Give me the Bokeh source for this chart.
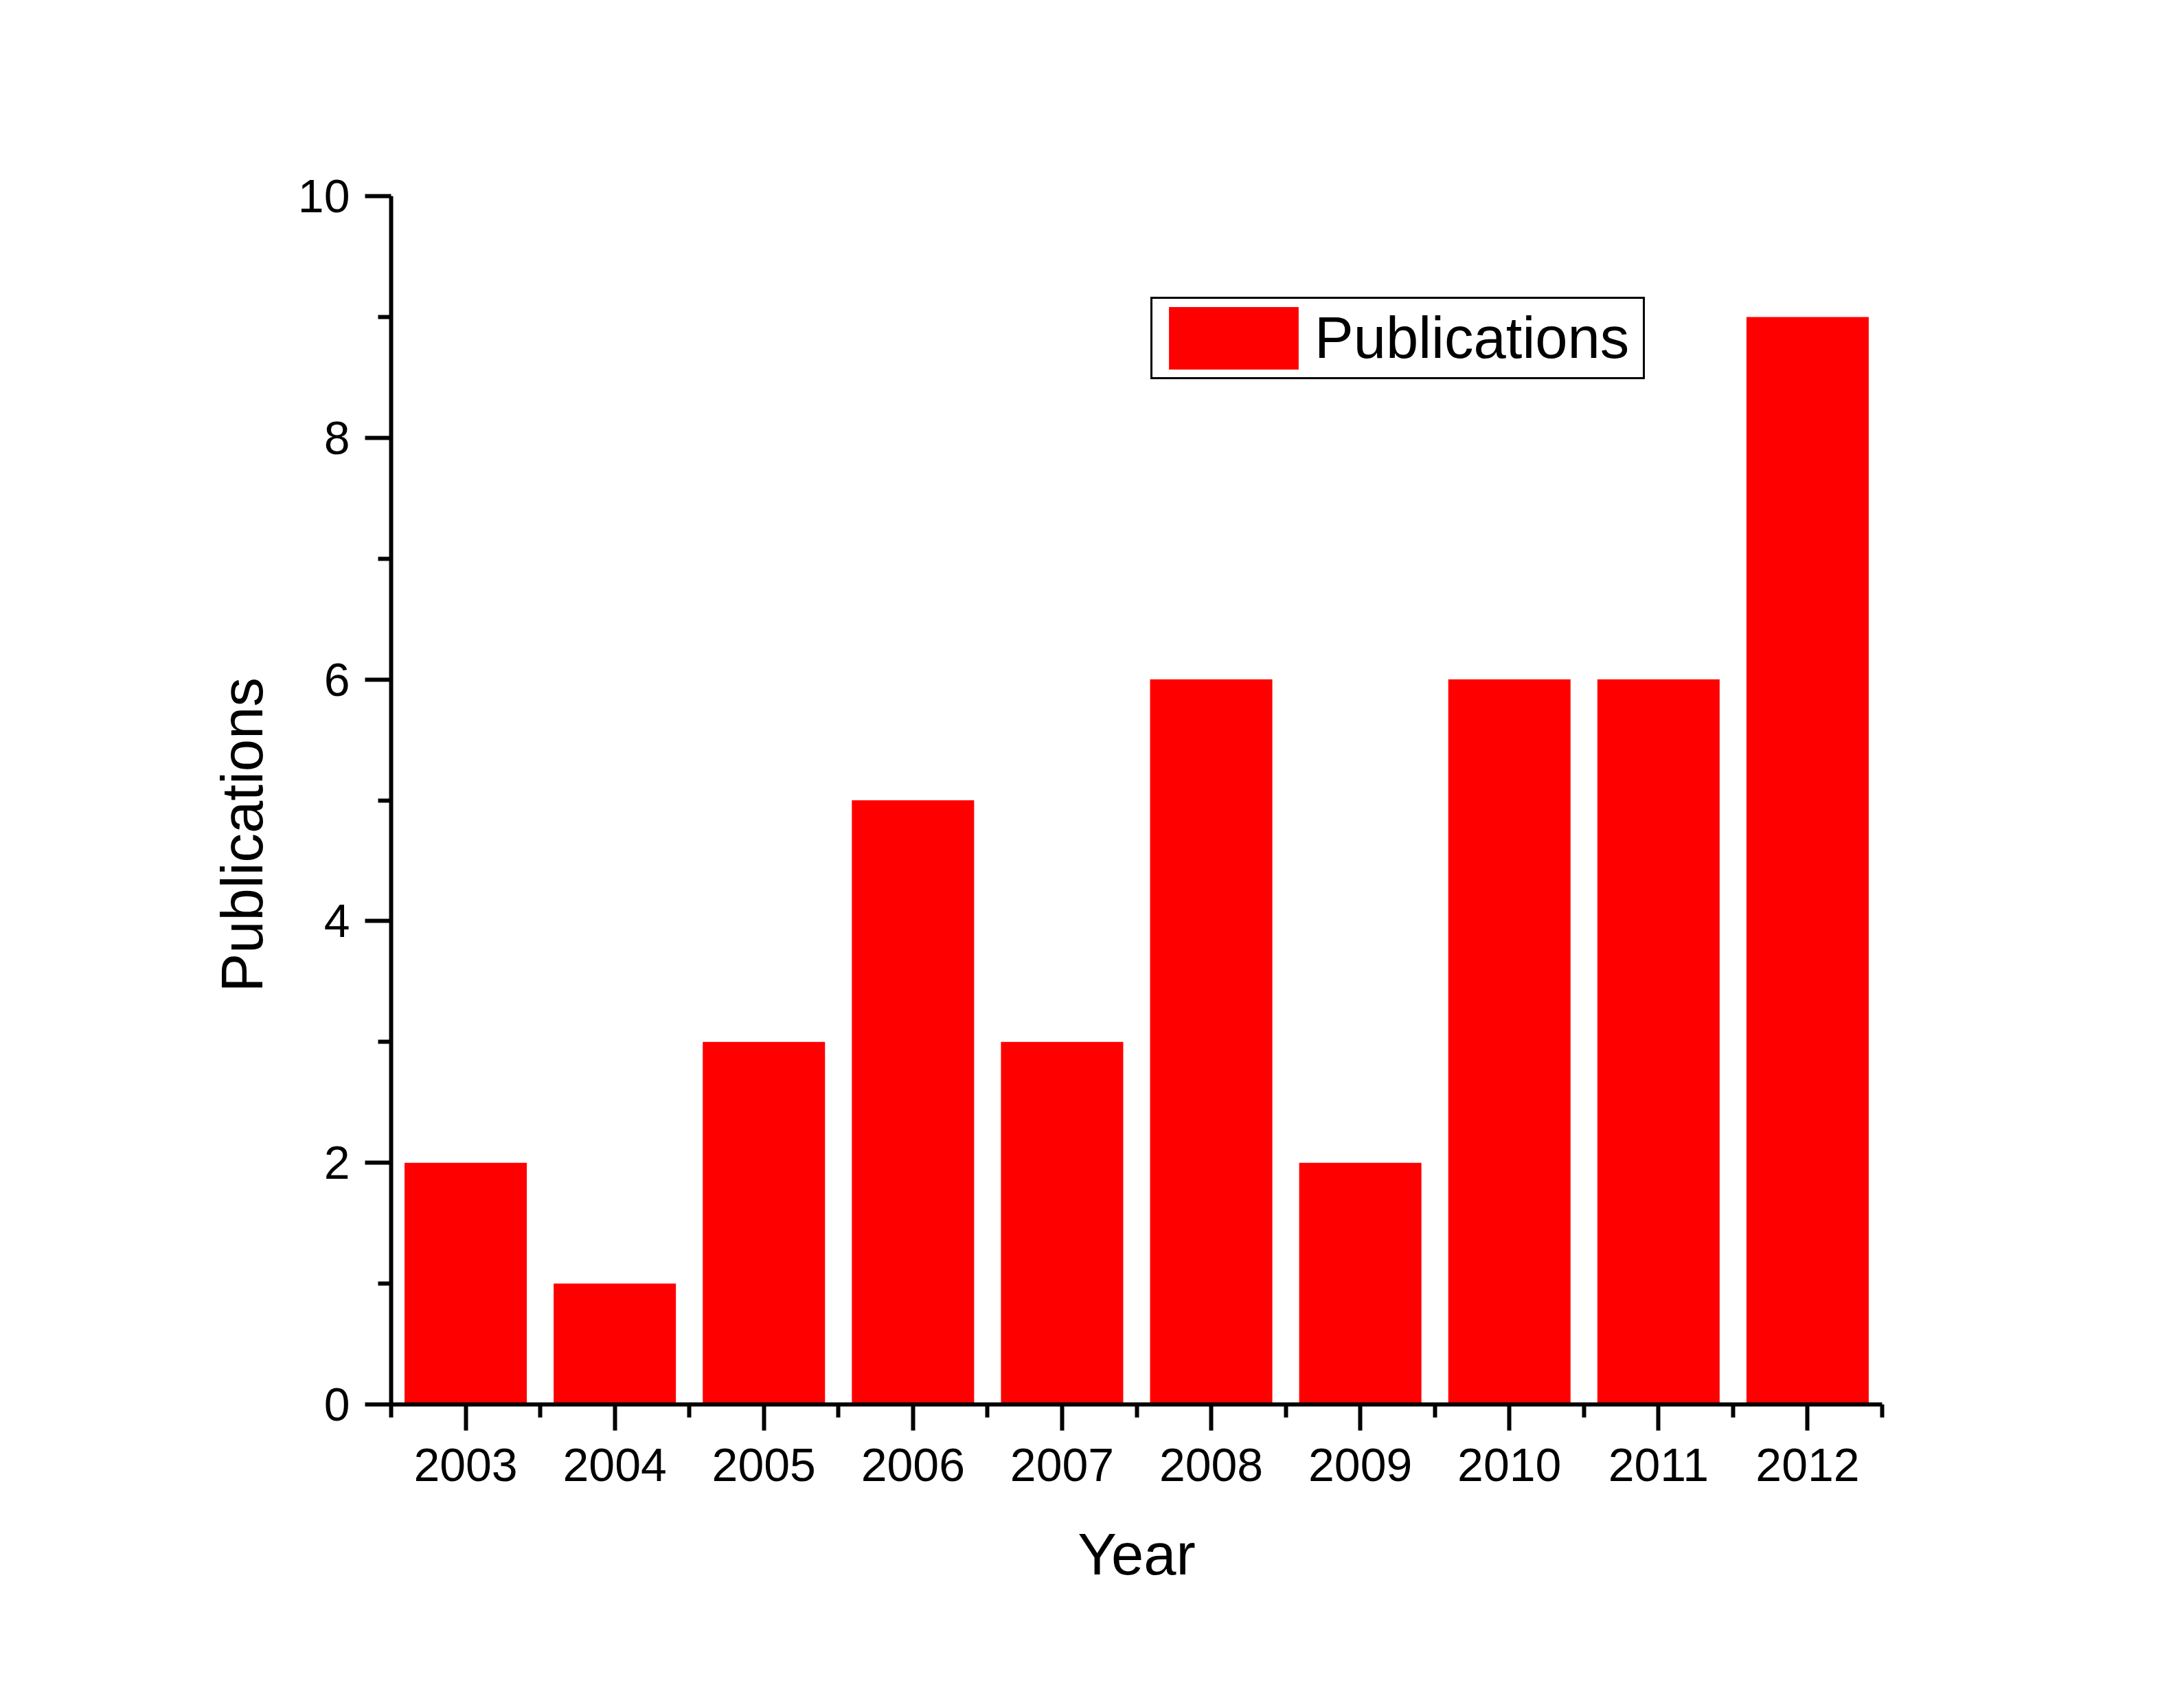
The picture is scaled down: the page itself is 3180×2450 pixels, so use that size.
from bokeh.plotting import figure
from bokeh.models import FixedTicker, ColumnDataSource, Legend, LegendItem, Title
from bokeh.embed import file_html
from bokeh.resources import INLINE

years = [2003, 2004, 2005, 2006, 2007, 2008, 2009, 2010, 2011, 2012]
publications = [2, 1, 3, 5, 3, 6, 2, 6, 6, 9]
y_ticks = [0, 2, 4, 6, 8, 10]
y_minor = [1, 3, 5, 7, 9]
x_title = "Year"
y_title = "Publications"
series_name = "Publications"

FONT = "Liberation Sans"

p = figure(width=3180, height=2450, output_backend="svg", toolbar_location=None,
           x_range=(2002.5, 2012.5), y_range=(0, 10),
           frame_width=2171, frame_height=1759,
           min_border_left=569, min_border_right=440,
           min_border_top=285, min_border_bottom=406)

src = ColumnDataSource(dict(x=years, top=publications))
r = p.vbar(x="x", top="top", bottom=0, width=0.82, source=src,
           fill_color="#FF0000", line_color=None)

p.xgrid.visible = False
p.ygrid.visible = False
p.outline_line_color = None
p.background_fill_color = "white"
p.border_fill_color = "white"

minor_x = [y - 0.5 for y in years] + [years[-1] + 0.5]
p.xaxis.ticker = FixedTicker(ticks=years, minor_ticks=minor_x)
p.yaxis.ticker = FixedTicker(ticks=y_ticks, minor_ticks=y_minor)

for ax in (p.xaxis[0], p.yaxis[0]):
    ax.axis_line_width = 6
    ax.axis_line_color = "black"
    ax.major_tick_line_width = 6
    ax.minor_tick_line_width = 6
    ax.major_tick_out = 38
    ax.major_tick_in = 0
    ax.minor_tick_out = 19
    ax.minor_tick_in = 0
    ax.major_label_text_font = FONT
    ax.major_label_text_font_size = "68px"
    ax.major_label_text_color = "black"
    ax.axis_label_text_font = FONT
    ax.axis_label_text_font_size = "85px"
    ax.axis_label_text_font_style = "normal"
    ax.axis_label_text_color = "black"

p.xaxis.axis_label = x_title
p.xaxis.major_label_standoff = 26
p.xaxis.axis_label_standoff = 56
p.yaxis.major_label_standoff = 22

# y-axis title as a side title so it can sit slightly below the frame centre
ytitle = Title(text=y_title, align="left", offset=600, standoff=62,
               text_font=FONT, text_font_size="85px", text_font_style="normal",
               text_color="black")
p.add_layout(ytitle, "left")

legend = Legend(items=[LegendItem(label=series_name, renderers=[r])],
                location=(1106, 1492),
                glyph_width=236, glyph_height=114,
                label_width=478,
                label_text_font=FONT, label_text_font_size="85px",
                label_text_color="black",
                label_standoff=-4, padding=0, margin=0, spacing=0,
                border_line_color="black", border_line_width=3,
                border_line_alpha=1.0,
                background_fill_alpha=1.0)
p.add_layout(legend, "center")

open("out.html", "w").write(file_html(p, INLINE))
